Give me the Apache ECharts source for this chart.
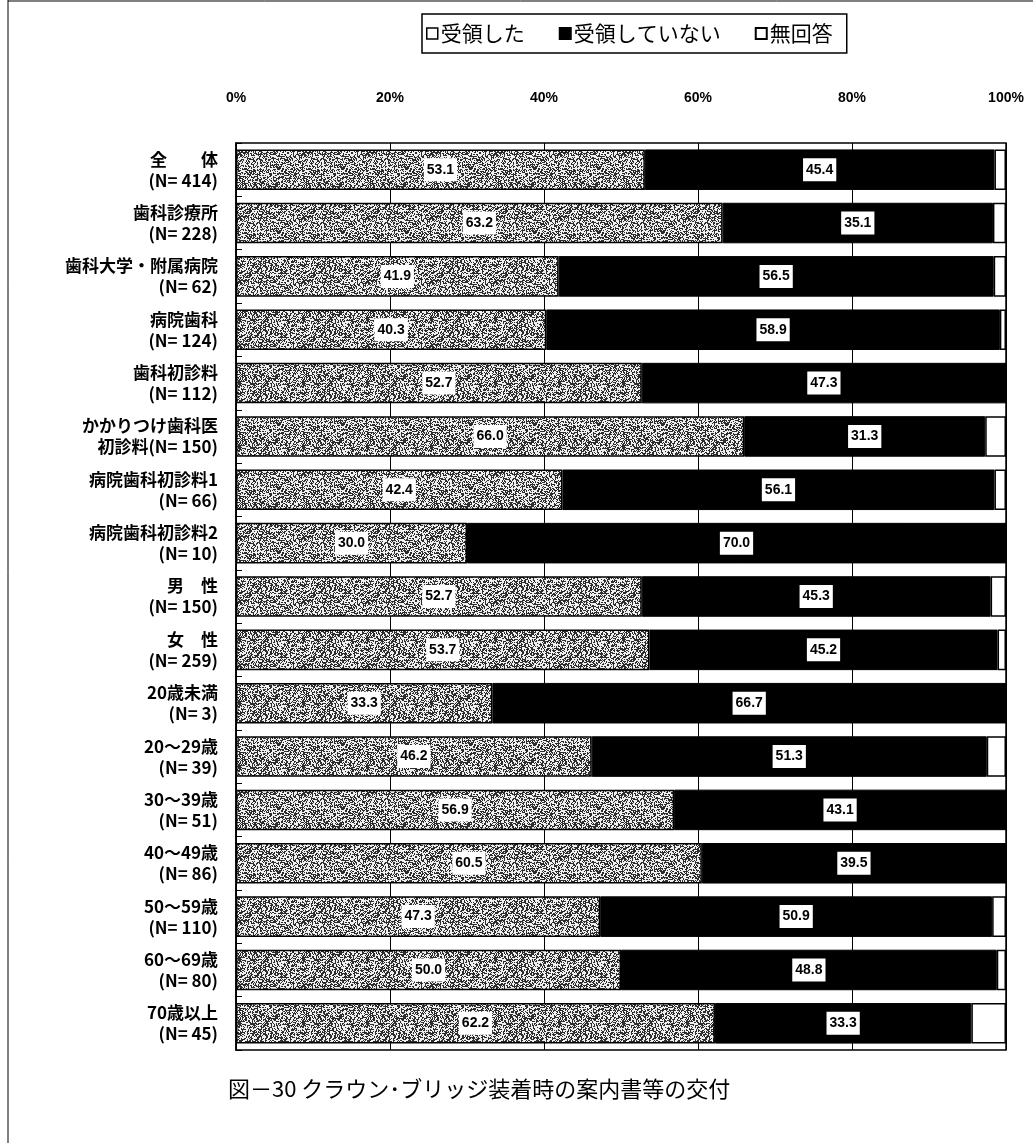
<!DOCTYPE html>
<html><head><meta charset="utf-8">
<script src="https://cdn.jsdelivr.net/npm/echarts@6/dist/echarts.min.js"></script>
<style>html,body{margin:0;padding:0;background:#fff;}#c{width:1033px;height:1143px;}</style>
</head><body><div id="c"></div>
<script>
const categories = [
  "全　　体\n(N= 414)", "歯科診療所\n(N= 228)", "歯科大学・附属病院\n(N= 62)", "病院歯科\n(N= 124)",
  "歯科初診料\n(N= 112)", "かかりつけ歯科医\n初診料(N= 150)", "病院歯科初診料1\n(N= 66)", "病院歯科初診料2\n(N= 10)",
  "男　性\n(N= 150)", "女　性\n(N= 259)", "20歳未満\n(N= 3)", "20～29歳\n(N= 39)",
  "30～39歳\n(N= 51)", "40～49歳\n(N= 86)", "50～59歳\n(N= 110)", "60～69歳\n(N= 80)", "70歳以上\n(N= 45)"
];
const received    = [53.1, 63.2, 41.9, 40.3, 52.7, 66.0, 42.4, 30.0, 52.7, 53.7, 33.3, 46.2, 56.9, 60.5, 47.3, 50.0, 62.2];
const notReceived = [45.4, 35.1, 56.5, 58.9, 47.3, 31.3, 56.1, 70.0, 45.3, 45.2, 66.7, 51.3, 43.1, 39.5, 50.9, 48.8, 33.3];
const noAnswer    = [1.5, 1.7, 1.6, 0.8, 0.0, 2.7, 1.5, 0.0, 2.0, 1.1, 0.0, 2.5, 0.0, 0.0, 1.8, 1.2, 4.5];
const seriesNames = ["受領した", "受領していない", "無回答"];
const xTicks = [0, 20, 40, 60, 80, 100];

// stipple texture (deterministic hash, purely decorative)
const tile = document.createElement('canvas');
tile.width = 64; tile.height = 64;
const tctx = tile.getContext('2d');
const img = tctx.createImageData(64, 64);
for (let y = 0; y < 64; y++) for (let x = 0; x < 64; x++) {
  let h = (x * 374761393 + y * 668265263) | 0;
  h = Math.imul(h ^ (h >>> 13), 1274126177);
  h = (h ^ (h >>> 16)) >>> 0;
  const v = (h % 100) < 47 ? 45 : 240;
  const i = (y * 64 + x) * 4;
  img.data[i] = img.data[i+1] = img.data[i+2] = v; img.data[i+3] = 255;
}
tctx.putImageData(img, 0, 0);

const labelStyle = {
  show: true, position: 'inside', color: '#000', backgroundColor: '#fff',
  fontSize: 14, fontWeight: 'bold', fontFamily: 'Liberation Sans, Arial, sans-serif', padding: [5, 3, 4, 3],
  formatter: p => p.value.toFixed(1)
};

const chart = echarts.init(document.getElementById('c'));
chart.setOption({
  backgroundColor: '#fff',
  animation: false,
  textStyle: { fontFamily: '"Noto Sans CJK JP", sans-serif', color: '#000' },
  legend: {
    top: 14, left: 422, itemGap: 34, itemWidth: 11, itemHeight: 11, icon: 'rect',
    borderColor: '#000', borderWidth: 1.5, padding: [9, 14, 9, 4],
    textStyle: { fontSize: 21, color: '#000', padding: [0, 0, 0, -2] },
    data: [
      { name: seriesNames[0], itemStyle: { color: '#fff', borderColor: '#000', borderWidth: 1.5 } },
      { name: seriesNames[1] },
      { name: seriesNames[2] }
    ]
  },
  grid: { left: 236, right: 27, top: 143, bottom: 93, show: true, borderColor: '#000', borderWidth: 1.5 },
  xAxis: {
    type: 'value', position: 'top', min: xTicks[0], max: xTicks[xTicks.length - 1], interval: 20,
    axisLabel: { formatter: '{value}%', fontSize: 14, fontWeight: 'bold', color: '#000', margin: 38, fontFamily: 'Liberation Sans, Arial, sans-serif' },
    axisLine: { show: false }, axisTick: { show: false },
    splitLine: { show: true, lineStyle: { color: '#000', width: 1 } }
  },
  yAxis: {
    type: 'category', inverse: true, data: categories,
    axisLine: { show: true, lineStyle: { color: '#000', width: 1.5 } },
    axisTick: { show: true, inside: true, length: 6, lineStyle: { color: '#000' } },
    axisLabel: { fontSize: 17, fontWeight: 'bold', color: '#000', lineHeight: 21, margin: 18, align: 'right' }
  },
  series: [
    { name: seriesNames[0], type: 'bar', stack: 't', data: received, barCategoryGap: '24%',
      itemStyle: { color: { image: tile, repeat: 'repeat' }, borderColor: '#000', borderWidth: 1.5 },
      label: labelStyle },
    { name: seriesNames[1], type: 'bar', stack: 't', data: notReceived,
      itemStyle: { color: '#000', borderColor: '#000', borderWidth: 1 },
      label: labelStyle },
    { name: seriesNames[2], type: 'bar', stack: 't', data: noAnswer,
      itemStyle: { color: '#fff', borderColor: '#000', borderWidth: 1.5 },
      label: { show: false } }
  ],
  graphic: [
    { type: 'text', left: 228, top: 1078, style: { text: '図－30 クラウン･ブリッジ装着時の案内書等の交付', fontSize: 22, fill: '#000', fontFamily: '"Noto Sans CJK JP", sans-serif' } },
    { type: 'line', shape: { x1: 8, y1: 0, x2: 8, y2: 1143 }, style: { stroke: '#000', lineWidth: 1 } },
    { type: 'line', shape: { x1: 8, y1: 1, x2: 1033, y2: 1 }, style: { stroke: '#000', lineWidth: 1 } }
  ]
});
</script>
</body></html>
